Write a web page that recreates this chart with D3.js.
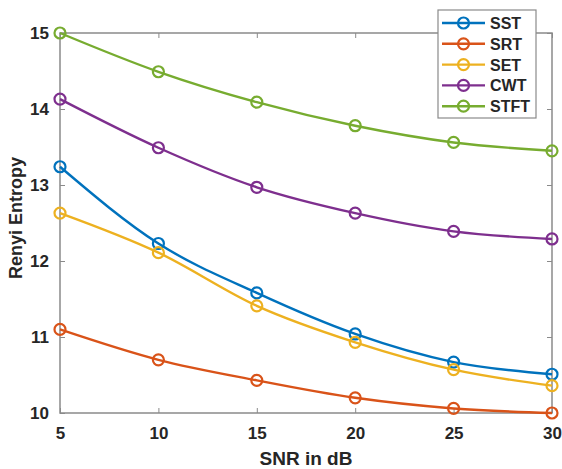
<!DOCTYPE html>
<html><head><meta charset="utf-8">
<script src="https://cdn.jsdelivr.net/npm/d3@7"></script>
<style>body{margin:0;background:#fff}svg{display:block}</style>
</head><body><svg id="c" width="562" height="469"></svg>
<script>
const snr = [5, 10, 15, 20, 25, 30];
const seriesNames = ["SST", "SRT", "SET", "CWT", "STFT"];
const sst  = [13.24, 12.23, 11.58, 11.04, 10.67, 10.51];
const srt  = [11.10, 10.70, 10.43, 10.20, 10.06, 10.00];
const set_ = [12.63, 12.11, 11.41, 10.93, 10.57, 10.36];
const cwt  = [14.13, 13.49, 12.97, 12.63, 12.39, 12.29];
const stft = [15.00, 14.49, 14.09, 13.78, 13.56, 13.45];
const xTicks = [5, 10, 15, 20, 25, 30];
const yTicks = [10, 11, 12, 13, 14, 15];
const colors = ["#0072BD", "#D95319", "#EDB120", "#7E2F8E", "#77AC30"];
const values = [sst, srt, set_, cwt, stft];

const svg = d3.select("#c");
const L = 60, R = 552, T = 33, B = 413;
const x = d3.scaleLinear().domain([5, 30]).range([L, R]);
const y = d3.scaleLinear().domain([10, 15]).range([B, T]);
const axisCol = "#8a8a8a", txtCol = "#262626";
const font = "'Liberation Sans', Arial, sans-serif";

svg.append("rect").attr("x", L).attr("y", T).attr("width", R - L).attr("height", B - T)
  .attr("fill", "none").attr("stroke", axisCol).attr("stroke-width", 1.5);

function styleAxis(g) {
  g.select(".domain").remove();
  g.selectAll(".tick line").attr("stroke", axisCol).attr("stroke-width", 1);
  g.selectAll(".tick text").attr("fill", txtCol).attr("font-family", font)
    .attr("font-size", 17).attr("font-weight", "bold");
}
svg.append("g").attr("transform", `translate(0,${B})`)
  .call(d3.axisBottom(x).tickValues(xTicks).tickSize(-5).tickPadding(14).tickFormat(d3.format("d"))).call(styleAxis);
svg.append("g").attr("transform", `translate(0,${T})`)
  .call(d3.axisTop(x).tickValues(xTicks).tickSize(-5).tickFormat("")).call(styleAxis);
svg.append("g").attr("transform", `translate(${L},0)`)
  .call(d3.axisLeft(y).tickValues(yTicks).tickSize(-5).tickPadding(11).tickFormat(d3.format("d"))).call(styleAxis);
svg.append("g").attr("transform", `translate(${R},0)`)
  .call(d3.axisRight(y).tickValues(yTicks).tickSize(-5).tickFormat("")).call(styleAxis);

svg.append("text").attr("x", (L + R) / 2).attr("y", 465).attr("text-anchor", "middle")
  .attr("font-family", font).attr("font-size", 19).attr("font-weight", "bold").attr("fill", txtCol)
  .text("SNR in dB");
svg.append("text").attr("transform", `translate(22,${(T + B) / 2 - 5}) rotate(-90)`).attr("text-anchor", "middle")
  .attr("font-family", font).attr("font-size", 18).attr("font-weight", "bold").attr("fill", txtCol)
  .text("Renyi Entropy");

const line = d3.line().x((d, i) => x(snr[i])).y(d => y(d)).curve(d3.curveMonotoneX);
values.forEach((vals, k) => {
  const g = svg.append("g");
  g.append("path").datum(vals).attr("d", line).attr("fill", "none")
    .attr("stroke", colors[k]).attr("stroke-width", 2.4);
  g.selectAll("circle").data(vals).join("circle")
    .attr("cx", (d, i) => x(snr[i])).attr("cy", d => y(d)).attr("r", 5.5)
    .attr("fill", "none").attr("stroke", colors[k]).attr("stroke-width", 2.2);
});

const lg = svg.append("g");
lg.append("rect").attr("x", 438).attr("y", 10).attr("width", 98).attr("height", 108)
  .attr("fill", "#fff").attr("stroke", axisCol).attr("stroke-width", 1.2);
seriesNames.forEach((n, k) => {
  const cy = 23 + k * 20.8;
  lg.append("line").attr("x1", 442).attr("x2", 485).attr("y1", cy).attr("y2", cy)
    .attr("stroke", colors[k]).attr("stroke-width", 2.4);
  lg.append("circle").attr("cx", 463.5).attr("cy", cy).attr("r", 5.5)
    .attr("fill", "none").attr("stroke", colors[k]).attr("stroke-width", 2.2);
  lg.append("text").attr("x", 490).attr("y", cy + 6).attr("font-family", font)
    .attr("font-size", 16).attr("font-weight", "bold").attr("fill", txtCol).text(n);
});
</script></body></html>
